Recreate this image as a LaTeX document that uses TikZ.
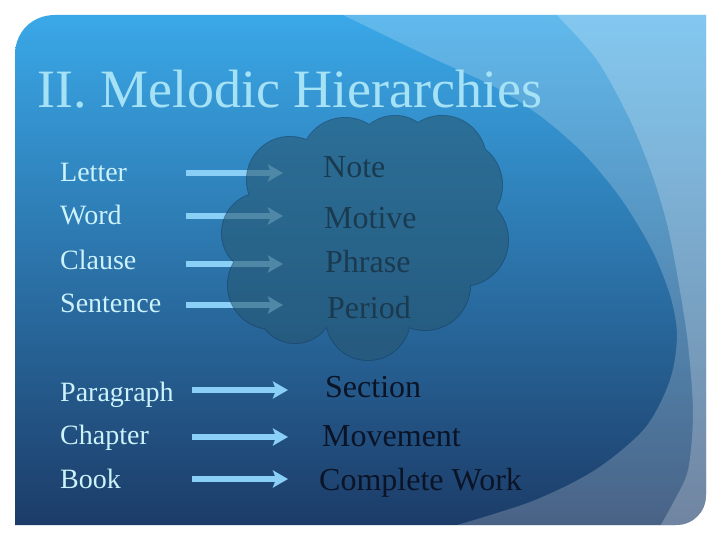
\documentclass[tikz,border=0pt]{standalone}
\usepackage{fontspec}
\setmainfont{Liberation Serif}
\usetikzlibrary{arrows.meta}
\definecolor{bgtop}{RGB}{58,168,232}
\definecolor{bgmid}{RGB}{40,122,186}
\definecolor{bgbot}{RGB}{28,60,104}
\definecolor{arrowc}{RGB}{138,207,245}
\definecolor{titlec}{RGB}{166,226,246}
\definecolor{leftc}{RGB}{204,242,252}
\definecolor{rightc}{RGB}{10,20,38}
\definecolor{cloudc}{RGB}{38,86,112}
\definecolor{cloudline}{RGB}{22,60,92}
\begin{document}
\begin{tikzpicture}[x=1pt,y=-1pt,
  arr/.style={draw=arrowc, line width=6pt, -{Stealth[length=15pt,width=17pt,inset=3pt]}},
  lefttxt/.style={anchor=base west, inner sep=0pt, text=leftc, font=\fontsize{28}{32}\selectfont},
  righttxt/.style={anchor=base west, inner sep=0pt, text=rightc, font=\fontsize{32}{36}\selectfont},
  titletxt/.style={anchor=base west, inner sep=0pt, text=titlec, font=\fontsize{54}{60}\selectfont}]
\useasboundingbox (0,0) rectangle (720,540);
\fill[white] (0,0) rectangle (720,540);
% frame
\def\framepath{(15,525) -- (15,55) .. controls (15,32) and (32,15) .. (55,15) -- (706,15) -- (706,495) .. controls (706,512) and (693,525) .. (676,525) -- cycle}
\shade[top color=bgtop, middle color=bgmid, bottom color=bgbot] \framepath;
\begin{scope}
  \clip \framepath;
  \fill[white, opacity=0.2] plot[smooth] coordinates {(330,8) (343,15) (430,57) (497,88) (543,118) (585,155) (622,200) (652,250) (670,295) (677,335) (670,380) (645,428) (595,470) (530,502) (440,530)} -- (730,550) -- (730,0) -- cycle;
  \fill[white, opacity=0.22] plot[smooth] coordinates {(552,8) (557,15) (597,60) (630,120) (653,177) (668,228) (679,285) (688,344) (693,413) (688,470) (673,503) (655,535)} -- (730,550) -- (730,0) -- cycle;
\end{scope}
% title
\node[titletxt] (title) at (37,108) {II. Melodic Hierarchies};
% left labels
\node[lefttxt] (letter) at (60,182) {Letter};
\node[lefttxt] (word) at (60,225) {Word};
\node[lefttxt] (clause) at (60,269) {Clause};
\node[lefttxt] (sentence) at (60,312) {Sentence};
\node[lefttxt] (paragraph) at (60,401) {Paragraph};
\node[lefttxt] (chapter) at (60,444) {Chapter};
\node[lefttxt] (book) at (60,488) {Book};
% right labels
\node[righttxt] (note) at (323,178) {Note};
\node[righttxt] (motive) at (324,229) {Motive};
\node[righttxt] (phrase) at (325,272) {Phrase};
\node[righttxt] (period) at (327,318) {Period};
\node[righttxt] (section) at (325,397) {Section};
\node[righttxt] (movement) at (322,446) {Movement};
\node[righttxt] (complete) at (319,490) {Complete Work};
% arrow ends
\coordinate (s1) at (186,173); \coordinate (e1) at (283,173);
\coordinate (s2) at (186,216); \coordinate (e2) at (283,216);
\coordinate (s3) at (186,264); \coordinate (e3) at (283,264);
\coordinate (s4) at (186,305); \coordinate (e4) at (283,305);
\coordinate (s5) at (192,390); \coordinate (e5) at (288,390);
\coordinate (s6) at (192,437); \coordinate (e6) at (288,437);
\coordinate (s7) at (192,479); \coordinate (e7) at (288,479);
\foreach \i in {1,...,7} { \draw[arr] (s\i) -- (e\i); }
% cloud
\begin{scope}[transparency group, opacity=0.58]
  \draw[cloudline, line width=2pt]
    (290,180) circle (43) (262,233) circle (40) (272,285) circle (44)
    (295,305) circle (38) (368,318) circle (42) (425,285) circle (45)
    (462,240) circle (46) (457,185) circle (45) (442,160) circle (44)
    (395,156) circle (40) (345,162) circle (44);
  \fill[cloudc]
    (290,180) circle (43) (262,233) circle (40) (272,285) circle (44)
    (295,305) circle (38) (368,318) circle (42) (425,285) circle (45)
    (462,240) circle (46) (457,185) circle (45) (442,160) circle (44)
    (395,156) circle (40) (345,162) circle (44)
    (365,240) ellipse [x radius=110, y radius=85];
\end{scope}
\end{tikzpicture}
\end{document}
